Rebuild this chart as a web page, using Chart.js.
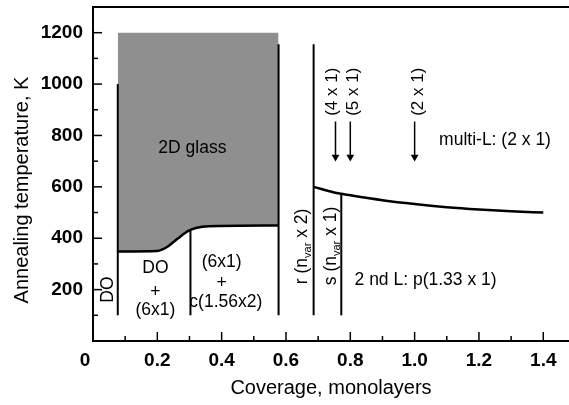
<!DOCTYPE html>
<html><head><meta charset="utf-8">
<script src="https://cdn.jsdelivr.net/npm/chart.js@4.4.0/dist/chart.umd.min.js"></script>
<style>html,body{margin:0;padding:0;background:#fff;overflow:hidden}#wrap{width:569px;height:405px;position:relative}</style>
</head><body><div id="wrap"><canvas id="c"></canvas></div>
<script>
// ---- data ----
const xTickValues = [0.2, 0.4, 0.6, 0.8, 1.0, 1.2, 1.4];
const xTickLabels = ['0.2', '0.4', '0.6', '0.8', '1.0', '1.2', '1.4'];
const yTickValues = [200, 400, 600, 800, 1000, 1200];
const yTickLabels = ['200', '400', '600', '800', '1000', '1200'];
const originLabel = '0';
const xTitle = 'Coverage, monolayers';
const yTitle = 'Annealing temperature, K';

// 2D glass region: lower boundary and upper limit
const glassX     = [0.077, 0.2, 0.215, 0.235, 0.255, 0.275, 0.295, 0.32, 0.36, 0.577];
const glassLower = [348,   350, 356,   370,   390,   410,   428,   440,  447,  450];
const glassTop   = 1200;

// 2nd layer / multilayer boundary
const curveX = [0.686, 0.75, 0.8, 0.9, 1.0, 1.1, 1.2, 1.3, 1.4];
const curveT = [600,   578,  567, 548, 533, 521, 512, 505, 500];

// vertical phase lines
const phaseLineX   = [0.077, 0.303, 0.577, 0.686, 0.772];
const phaseLineTop = [1000,  436,   1155,  1155,  570];
const phaseLineBottom = 100;

// arrows with structure labels
const arrowX      = [0.754, 0.80, 1.0];
const arrowLabelX = [0.744, 0.809, 1.010];
const arrowLabels = ['(4 x 1)', '(5 x 1)', '(2 x 1)'];
const arrowTop = 854, arrowTip = 716, arrowLabelT = 970;

// region labels (horizontal)
const labelText = ['2D glass', 'DO', '+', '(6x1)', '(6x1)', '+', 'c(1.56x2)', '2 nd L: p(1.33 x 1)', 'multi-L: (2 x 1)'];
const labelX    = [0.309, 0.194, 0.194, 0.194, 0.40, 0.40, 0.413, 1.034, 1.25];
const labelT    = [752,   285,   191,   121,   308,  226,  152,  238,   783];

// rotated labels (pieces: normal, subscript, normal)
const rotText = [['DO', '', ''], ['r (n', 'var', ' x 2)'], ['s (n', 'var', ' x 1)']];
const rotX    = [0.0475, 0.650, 0.740];
const rotT    = [200, 368, 370];

// ---- chart ----
const FONT = '"Liberation Sans", Arial, Helvetica, sans-serif';
const datasets = [];
phaseLineX.forEach((px, i) => datasets.push({
  data: [{x: px, y: phaseLineBottom}, {x: px, y: phaseLineTop[i]}],
  borderColor: '#000', borderWidth: 2, pointRadius: 0, fill: false
}));
datasets.push({
  data: curveX.map((v, i) => ({x: v, y: curveT[i]})),
  borderColor: '#000', borderWidth: 2.5, pointRadius: 0, fill: false, cubicInterpolationMode: 'monotone'
});
arrowX.forEach(ax => datasets.push({
  data: [{x: ax, y: arrowTop}, {x: ax, y: arrowTip}],
  borderColor: '#000', borderWidth: 1.5, fill: false,
  pointRadius: [0, 4.5], pointStyle: 'triangle', rotation: 180,
  pointBackgroundColor: '#000', pointBorderColor: '#000', pointBorderWidth: 0
}));
const lowerIdx = datasets.length;
datasets.push({
  data: glassX.map((v, i) => ({x: v, y: glassLower[i]})),
  borderColor: '#000', borderWidth: 2.5, pointRadius: 0, fill: false, cubicInterpolationMode: 'monotone'
});
datasets.push({
  data: [{x: glassX[0], y: glassTop}, {x: glassX[glassX.length - 1], y: glassTop}],
  borderColor: 'rgba(0,0,0,0)', borderWidth: 0, pointRadius: 0,
  backgroundColor: '#8f8f8f', fill: lowerIdx
});

const decor = {
  id: 'decor',
  afterDraw(chart) {
    const {ctx, chartArea: a, scales: {x, y}} = chart;
    ctx.save();
    ctx.strokeStyle = '#000';
    ctx.lineWidth = 2;
    ctx.beginPath(); ctx.moveTo(a.left - 1, a.top); ctx.lineTo(a.right, a.top); ctx.stroke();
    // inward ticks
    ctx.lineWidth = 1.5;
    for (let k = 1; k <= 14; k++) {
      const px = x.getPixelForValue(k / 10), len = (k % 2 === 0) ? 9 : 5;
      ctx.beginPath(); ctx.moveTo(px, a.bottom); ctx.lineTo(px, a.bottom - len); ctx.stroke();
    }
    for (let k = 1; k <= 12; k++) {
      const py = y.getPixelForValue(k * 100), len = (k % 2 === 0) ? 9 : 5;
      ctx.beginPath(); ctx.moveTo(a.left, py); ctx.lineTo(a.left + len, py); ctx.stroke();
    }
    ctx.fillStyle = '#000';
    // origin label
    ctx.font = 'bold 19px ' + FONT;
    ctx.textAlign = 'center'; ctx.textBaseline = 'middle';
    ctx.fillText(originLabel, a.left - 8, 361);
    // axis titles
    ctx.font = '20px ' + FONT;
    ctx.fillText(xTitle, (a.left + a.right) / 2, 388);
    ctx.save(); ctx.translate(22, 190); ctx.rotate(-Math.PI / 2); ctx.fillText(yTitle, 0, 0); ctx.restore();
    // region labels
    ctx.font = '17.5px ' + FONT;
    labelText.forEach((t, i) => ctx.fillText(t, x.getPixelForValue(labelX[i]), y.getPixelForValue(labelT[i])));
    // arrow labels
    ctx.font = '17px ' + FONT;
    arrowLabels.forEach((t, i) => {
      ctx.save(); ctx.translate(x.getPixelForValue(arrowLabelX[i]), y.getPixelForValue(arrowLabelT)); ctx.rotate(-Math.PI / 2);
      ctx.fillText(t, 0, 0); ctx.restore();
    });
    // rotated labels with subscripts
    rotText.forEach((p, i) => {
      ctx.save(); ctx.translate(x.getPixelForValue(rotX[i]), y.getPixelForValue(rotT[i])); ctx.rotate(-Math.PI / 2);
      ctx.textAlign = 'left';
      const big = '17.5px ' + FONT, small = '11px ' + FONT;
      ctx.font = big; const w0 = ctx.measureText(p[0]).width, w2 = ctx.measureText(p[2]).width;
      ctx.font = small; const w1 = ctx.measureText(p[1]).width;
      let cx = -(w0 + w1 + w2) / 2;
      ctx.font = big; ctx.fillText(p[0], cx, 0); cx += w0;
      ctx.font = small; ctx.fillText(p[1], cx, 6); cx += w1;
      ctx.font = big; ctx.fillText(p[2], cx, 0);
      ctx.restore();
    });
    ctx.restore();
  }
};

new Chart(document.getElementById('c'), {
  type: 'line',
  data: {datasets},
  plugins: [decor],
  options: {
    responsive: true, maintainAspectRatio: false, animation: false,
    layout: {autoPadding: false, padding: {top: 7, right: 0, left: 0, bottom: 0}},
    plugins: {legend: {display: false}, tooltip: {enabled: false}},
    elements: {line: {tension: 0}},
    scales: {
      x: {
        type: 'linear', min: 0, max: 1.48,
        grid: {display: false, drawTicks: false},
        border: {display: true, color: '#000', width: 2},
        ticks: {padding: 8, color: '#000', font: {family: FONT, size: 19, weight: 'bold'},
          callback: (v) => { const i = xTickValues.findIndex(t => Math.abs(t - v) < 1e-6); return i >= 0 ? xTickLabels[i] : ''; }},
        afterBuildTicks: (s) => { s.ticks = xTickValues.map(v => ({value: v})); },
        afterFit: (s) => { s.height = 64; s.paddingLeft = 0; s.paddingRight = 0; }
      },
      y: {
        type: 'linear', min: 0, max: 1300,
        grid: {display: false, drawTicks: false},
        border: {display: true, color: '#000', width: 2},
        ticks: {padding: 10, color: '#000', font: {family: FONT, size: 19, weight: 'bold', lineHeight: 0.5},
          callback: (v) => { const i = yTickValues.indexOf(v); return i >= 0 ? yTickLabels[i] : ''; }},
        afterBuildTicks: (s) => { s.ticks = yTickValues.map(v => ({value: v})); },
        afterFit: (s) => { s.width = 93; s.paddingTop = 0; s.paddingBottom = 0; }
      }
    }
  }
});
</script></body></html>
